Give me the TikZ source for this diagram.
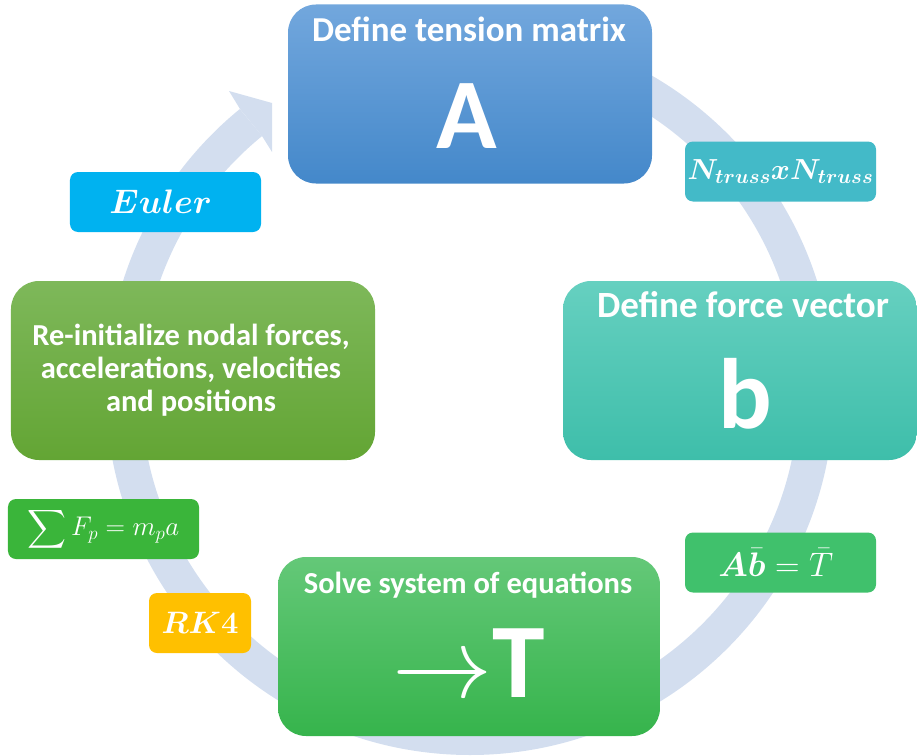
\documentclass[tikz,border=0pt]{standalone}
\usepackage{fix-cm}
\usepackage{amsmath,amssymb,bm}
\usepackage{fontspec}
\setmainfont{Carlito}
\usepackage{tikz}
\usetikzlibrary{positioning}
\definecolor{ringgray}{RGB}{211,222,239}
\definecolor{blueTop}{RGB}{114,167,221}
\definecolor{blueBot}{RGB}{68,136,202}
\definecolor{tealTop}{RGB}{102,208,192}
\definecolor{tealBot}{RGB}{62,190,170}
\definecolor{greenTop}{RGB}{100,200,120}
\definecolor{greenBot}{RGB}{54,180,76}
\definecolor{oliveTop}{RGB}{126,184,90}
\definecolor{oliveBot}{RGB}{99,165,52}
\definecolor{tagTeal}{RGB}{67,186,200}
\definecolor{tagGreen}{RGB}{64,193,108}
\definecolor{tagCyan}{RGB}{0,178,240}
\definecolor{tagGold}{RGB}{255,192,0}
\definecolor{tagLeaf}{RGB}{58,181,58}
\tikzset{
  stepbox/.style={rectangle, rounded corners=28bp, minimum height=179bp, inner sep=0pt},
  tagbox/.style={rectangle, rounded corners=8bp, minimum width=191bp, minimum height=60bp, inner sep=0pt, text=white},
  steptitle/.style={text=white, inner sep=0pt, anchor=base, font=\fontsize{#1}{#1}\selectfont\bfseries},
  stepletter/.style={text=white, inner sep=0pt, anchor=base, font=\fontsize{100bp}{100bp}\selectfont\bfseries}
}

\begin{document}
\begin{tikzpicture}[x=1bp, y=-1bp]
  \useasboundingbox (0,0) rectangle (917,756);

  % Cycle arrow
  \draw[ringgray, line width=35bp] (470,391) ++(-90:346.5) arc[start angle=-90, end angle=230.8, radius=346.5];
  \fill[ringgray] (240,109) -- (229,91) -- (272,103) -- (272,152) -- (262,136) -- cycle;

  % Tension matrix
  \node[stepbox, minimum width=364bp, top color=blueTop, bottom color=blueBot] (tension) at (470,94) {};
  \node[steptitle=35bp] (tensionT) at (469,42) {Define tension matrix};
  \node[stepletter] (tensionA) at (467,148) {A};

  % Force vector
  \node[stepbox, minimum width=354bp, top color=tealTop, bottom color=tealBot] (force) at (740,370.5) {};
  \node[steptitle=37bp] (forceT) at (743,317) {Define force vector};
  \node[stepletter] (forceB) at (745,428) {b};

  % Solve
  \node[stepbox, minimum width=382bp, top color=greenTop, bottom color=greenBot] (solve) at (469,646.5) {};
  \node[steptitle=30.5bp] (solveT) at (468,593) {Solve system of equations};
  \node[stepletter] (solveX) at (469,697) {{\fontsize{100bp}{100bp}\selectfont\mdseries$\rightarrow$}{\fontsize{106bp}{106bp}\selectfont T}};

  % Re-initialize
  \node[stepbox, minimum width=364bp, top color=oliveTop, bottom color=oliveBot] (reinit) at (193,370.5) {};
  \node[text=white, align=center, font=\fontsize{30.5bp}{33bp}\selectfont\bfseries] (reinitT) at (191,370)
    {Re-initialize nodal forces,\\accelerations, velocities\\and positions};

  % Tags
  \node[tagbox, fill=tagTeal, font=\fontsize{29bp}{29bp}\selectfont] (size) at (780.5,171.5) {$\bm{N_{truss}xN_{truss}}$};
  \node[tagbox, fill=tagGreen, font=\fontsize{34bp}{34bp}\selectfont] (system) at (780.5,562.5) {$\bm{A\bar{b}}=\bar{T}\;$};
  \node[tagbox, fill=tagCyan, font=\fontsize{34bp}{34bp}\selectfont] (euler) at (165.5,202) {$\bm{Euler}\;$};
  \node[tagbox, fill=tagGold, minimum width=102bp, font=\fontsize{31bp}{31bp}\selectfont] (rk) at (200,623) {$\bm{RK4}$};
  \node[tagbox, fill=tagLeaf, font=\fontsize{27bp}{27bp}\selectfont] (newton) at (103.5,529) {$\displaystyle\sum F_p=m_pa$};
\end{tikzpicture}
\end{document}
